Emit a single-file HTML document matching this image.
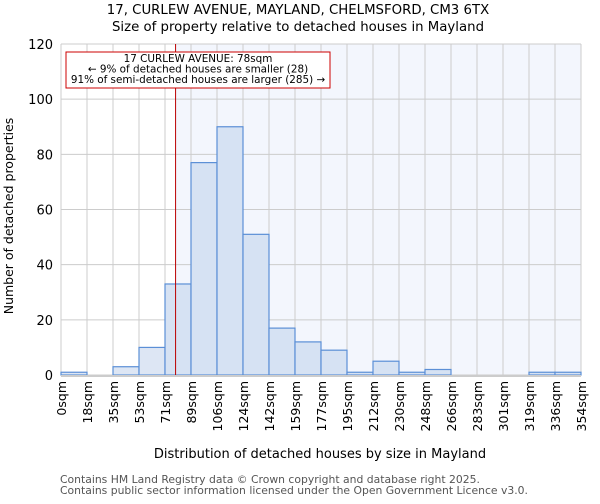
<!DOCTYPE html>
<html><head><meta charset="utf-8"><style>
body{margin:0;background:#fff;font-family:"DejaVu Sans","Liberation Sans",sans-serif;}
</style></head><body>
<svg width="600" height="500" xmlns="http://www.w3.org/2000/svg" font-family="DejaVu Sans, Liberation Sans, sans-serif">
<text x="298" y="14" text-anchor="middle" font-size="13.3">17, CURLEW AVENUE, MAYLAND, CHELMSFORD, CM3 6TX</text>
<text x="298" y="31" text-anchor="middle" font-size="13.3">Size of property relative to detached houses in Mayland</text>
<g id="plot"></g>
<text x="320" y="458" text-anchor="middle" font-size="13">Distribution of detached houses by size in Mayland</text>
<text transform="translate(13,216) rotate(-90)" text-anchor="middle" font-size="12.5">Number of detached properties</text>
<text x="60" y="483" font-size="10.8" fill="#555">Contains HM Land Registry data © Crown copyright and database right 2025.</text>
<text x="60" y="494" font-size="10.8" fill="#555">Contains public sector information licensed under the Open Government Licence v3.0.</text>
</svg>
<script>
const binLabels=["0sqm","18sqm","35sqm","53sqm","71sqm","89sqm","106sqm","124sqm","142sqm","159sqm","177sqm","195sqm","212sqm","230sqm","248sqm","266sqm","283sqm","301sqm","319sqm","336sqm","354sqm"];
const counts=[1,0,3,10,33,77,90,51,17,12,9,1,5,1,2,0,0,0,1,1];
const yTicks=[0,20,40,60,80,100,120];
const binWidth=17.7;
const propertySize=78;
const NS="http://www.w3.org/2000/svg";
const L=61,R=581,T=44,B=375,yMax=120;
const nb=counts.length;
const xs=i=>L+(R-L)*i/nb;
const xv=v=>L+(R-L)*v/(binWidth*nb);
const ys=v=>B-(B-T)*v/yMax;
const g=document.getElementById('plot');
function mk(t,a){const e=document.createElementNS(NS,t);for(const k in a)e.setAttribute(k,a[k]);g.appendChild(e);return e;}
const px=xv(propertySize);
let bg=mk('rect',{x:px,y:T,width:R-px,height:B-T,fill:'#f3f6fd'});


for(let i=0;i<=nb;i++){let l=mk('line',{x1:xs(i),x2:xs(i),y1:T,y2:B,stroke:'#ccc','stroke-width':1});

}
yTicks.forEach(v=>{let l=mk('line',{x1:L,x2:R,y1:ys(v),y2:ys(v),stroke:'#ccc','stroke-width':1});


let t=mk('text',{x:L-8,y:ys(v)+5,'text-anchor':'end','font-size':13});t.textContent=v;

});
counts.forEach((c,i)=>{let r=mk('rect',{x:xs(i),y:ys(c),width:xs(i+1)-xs(i),height:B-ys(c),fill:i<4?'#dde6f4':'#d6e2f3',stroke:'#5b8fd6','stroke-width':1.2});

});
let ax=mk('line',{x1:L,x2:R,y1:B+1,y2:B+1,stroke:'#ccc','stroke-width':2});


binLabels.forEach((s,i)=>{const x=xs(i);let t=mk('text',{transform:`translate(${x+5},${B+6}) rotate(-90)`,'text-anchor':'end','font-size':12.5});t.textContent=s;

});
let ml=mk('line',{x1:px,x2:px,y1:T,y2:B,stroke:'#b00','stroke-width':1});


let box=mk('rect',{x:66,y:52,width:264,height:36,fill:'#fff',stroke:'#c00','stroke-width':1});


["17 CURLEW AVENUE: 78sqm","← 9% of detached houses are smaller (28)","91% of semi-detached houses are larger (285) →"].forEach((s,i)=>{let t=mk('text',{x:198,y:62+i*10.5,'text-anchor':'middle','font-size':10.4});t.textContent=s;

});
</script>
</body></html>
